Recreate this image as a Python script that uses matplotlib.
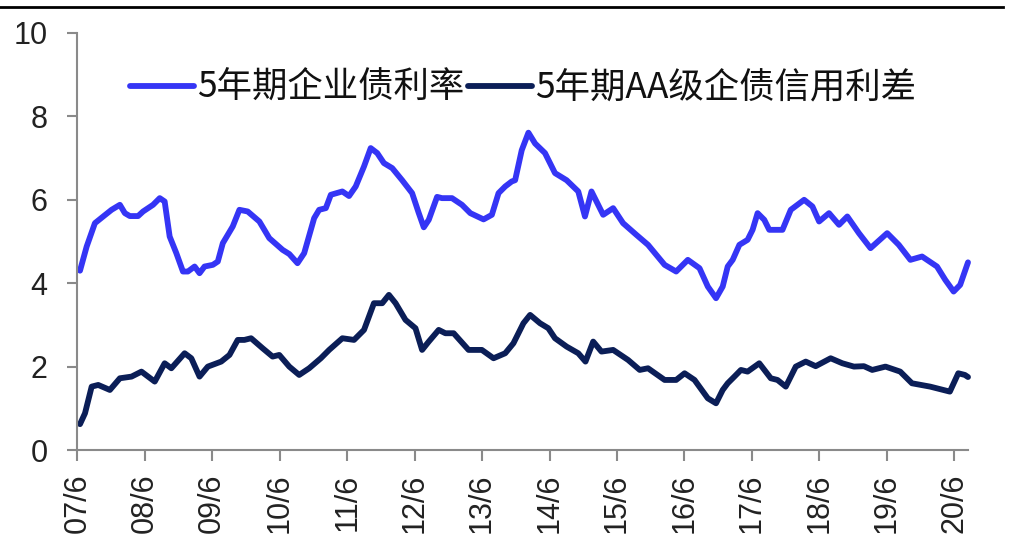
import matplotlib
matplotlib.use("Agg")
import matplotlib.pyplot as plt
from matplotlib.lines import Line2D

# Decimal-year dates and yields (%) for the 5-year corporate bond yield
rate_dates = [
    2007.457, 2007.556, 2007.678, 2007.801, 2007.925, 2008.048, 2008.122, 2008.195,
    2008.318, 2008.392, 2008.540, 2008.639, 2008.712, 2008.786, 2008.885, 2008.983,
    2009.056, 2009.156, 2009.229, 2009.303, 2009.426, 2009.500, 2009.574, 2009.721,
    2009.820, 2009.943, 2010.116, 2010.263, 2010.460, 2010.559, 2010.681, 2010.780,
    2010.928, 2011.002, 2011.101, 2011.175, 2011.346, 2011.445, 2011.544, 2011.667,
    2011.766, 2011.863, 2011.962, 2012.085, 2012.232, 2012.380, 2012.479, 2012.553,
    2012.627, 2012.750, 2012.823, 2012.971, 2013.119, 2013.243, 2013.439, 2013.562,
    2013.661, 2013.760, 2013.857, 2013.907, 2014.005, 2014.104, 2014.203, 2014.350,
    2014.498, 2014.670, 2014.843, 2014.942, 2015.039, 2015.212, 2015.360, 2015.507,
    2015.704, 2015.877, 2016.123, 2016.294, 2016.467, 2016.640, 2016.763, 2016.885,
    2016.984, 2017.058, 2017.132, 2017.231, 2017.353, 2017.427, 2017.501, 2017.600,
    2017.674, 2017.870, 2017.993, 2018.191, 2018.314, 2018.413, 2018.560, 2018.708,
    2018.831, 2019.003, 2019.175, 2019.422, 2019.594, 2019.766, 2019.939, 2020.160,
    2020.283, 2020.407, 2020.504, 2020.620,
]
rate_values = [
    4.30, 4.88, 5.44, 5.60, 5.76, 5.88, 5.68, 5.61,
    5.61, 5.72, 5.88, 6.04, 5.96, 5.12, 4.72, 4.28,
    4.28, 4.40, 4.24, 4.40, 4.44, 4.52, 4.96, 5.36,
    5.76, 5.72, 5.48, 5.08, 4.80, 4.70, 4.48, 4.72,
    5.56, 5.76, 5.80, 6.12, 6.20, 6.09, 6.32, 6.80,
    7.24, 7.12, 6.88, 6.76, 6.47, 6.16, 5.68, 5.34,
    5.52, 6.07, 6.04, 6.04, 5.88, 5.68, 5.53, 5.64,
    6.16, 6.32, 6.44, 6.47, 7.19, 7.61, 7.35, 7.12,
    6.64, 6.47, 6.20, 5.60, 6.20, 5.64, 5.80, 5.44,
    5.16, 4.92, 4.44, 4.28, 4.56, 4.36, 3.92, 3.64,
    3.92, 4.40, 4.56, 4.92, 5.04, 5.28, 5.68, 5.52,
    5.28, 5.28, 5.76, 6.00, 5.84, 5.48, 5.68, 5.40,
    5.60, 5.20, 4.84, 5.20, 4.92, 4.56, 4.64, 4.40,
    4.08, 3.80, 3.96, 4.50,
]

# Decimal-year dates and spreads (%) for the 5-year AA corporate credit spread
spread_dates = [
    2007.457, 2007.531, 2007.630, 2007.727, 2007.900, 2008.048, 2008.221, 2008.368,
    2008.565, 2008.712, 2008.811, 2009.008, 2009.107, 2009.229, 2009.352, 2009.550,
    2009.673, 2009.795, 2009.894, 2009.993, 2010.164, 2010.312, 2010.411, 2010.559,
    2010.706, 2010.854, 2011.027, 2011.150, 2011.346, 2011.519, 2011.667, 2011.814,
    2011.937, 2012.036, 2012.135, 2012.282, 2012.430, 2012.528, 2012.627, 2012.774,
    2012.873, 2012.996, 2013.217, 2013.414, 2013.587, 2013.760, 2013.882, 2014.030,
    2014.129, 2014.276, 2014.399, 2014.498, 2014.670, 2014.843, 2014.950, 2015.064,
    2015.187, 2015.360, 2015.581, 2015.754, 2015.877, 2016.123, 2016.294, 2016.419,
    2016.566, 2016.763, 2016.885, 2016.984, 2017.058, 2017.157, 2017.254, 2017.353,
    2017.526, 2017.697, 2017.796, 2017.919, 2018.067, 2018.215, 2018.362, 2018.584,
    2018.757, 2018.929, 2019.077, 2019.200, 2019.397, 2019.615, 2019.789, 2020.059,
    2020.351, 2020.476, 2020.574, 2020.620,
]
spread_values = [
    0.62, 0.88, 1.52, 1.56, 1.44, 1.72, 1.76, 1.88,
    1.64, 2.08, 1.96, 2.32, 2.20, 1.76, 2.00, 2.12,
    2.28, 2.64, 2.64, 2.68, 2.44, 2.24, 2.28, 2.00,
    1.80, 1.96, 2.20, 2.40, 2.68, 2.64, 2.88, 3.52,
    3.52, 3.72, 3.52, 3.12, 2.92, 2.40, 2.60, 2.88,
    2.80, 2.80, 2.40, 2.40, 2.20, 2.32, 2.56, 3.04,
    3.24, 3.04, 2.92, 2.68, 2.48, 2.32, 2.12, 2.60,
    2.36, 2.40, 2.16, 1.92, 1.96, 1.68, 1.68, 1.84,
    1.68, 1.24, 1.12, 1.44, 1.60, 1.76, 1.92, 1.88,
    2.08, 1.72, 1.68, 1.52, 2.00, 2.12, 2.01, 2.20,
    2.08, 2.00, 2.01, 1.92, 2.00, 1.88, 1.60, 1.52,
    1.40, 1.84, 1.80, 1.75,
]

tick_labels = ["07/6", "08/6", "09/6", "10/6", "11/6", "12/6", "13/6",
               "14/6", "15/6", "16/6", "17/6", "18/6", "19/6", "20/6"]
tick_positions = [2007.417 + i for i in range(len(tick_labels))]

series_names = ["5年期企业债利率", "5年期AA级企债信用利差"]

W, H = 1011, 544
fig = plt.figure(figsize=(W / 100, H / 100), dpi=100)
ax = fig.add_axes([77.3 / W, 94 / H, (968 - 77.3) / W, (450 - 33) / H])

blue = "#3535F5"
navy = "#0B1E57"
ax.plot(rate_dates, rate_values, color=blue, lw=4.2, solid_joinstyle="round",
        solid_capstyle="round", clip_on=False, label=series_names[0])
ax.plot(spread_dates, spread_values, color=navy, lw=4.2, solid_joinstyle="round",
        solid_capstyle="round", clip_on=False, label=series_names[1])

ax.set_xlim(2007.417, 2020.62)
ax.set_ylim(0, 10)
ax.set_yticks([0, 2, 4, 6, 8, 10])
ax.set_xticks(tick_positions)
ax.set_xticklabels(tick_labels, rotation=90)

grey = "#8A8A8A"
for side in ("top", "right"):
    ax.spines[side].set_visible(False)
for side in ("left", "bottom"):
    ax.spines[side].set_color(grey)
    ax.spines[side].set_linewidth(1.5)

ax.tick_params(axis="y", direction="out", length=7.5, width=1.5, color=grey,
               pad=14, labelsize=22, labelcolor="#222222")
ax.tick_params(axis="x", direction="out", length=8, width=1.5, color=grey,
               pad=9, labelsize=22, labelcolor="#222222")
for lab in ax.get_xticklabels() + ax.get_yticklabels():
    lab.set_fontfamily(["Liberation Sans", "DejaVu Sans"])

leg = fig.legend(loc="center left", bbox_to_anchor=(130 / W, 1 - 88 / H),
                 ncol=2, frameon=False, borderpad=0, borderaxespad=0,
                 handlelength=1.8, handletextpad=0.1, columnspacing=0.1,
                 prop={"family": ["Noto Sans CJK SC", "DejaVu Sans"], "size": 25.5})
for t in leg.get_texts():
    t.set_color("#111111")

fig.add_artist(Line2D([0, 0.992], [1 - 7 / H, 1 - 7 / H], color="black",
                      lw=2, transform=fig.transFigure))

fig.savefig("out.png", dpi=100)
